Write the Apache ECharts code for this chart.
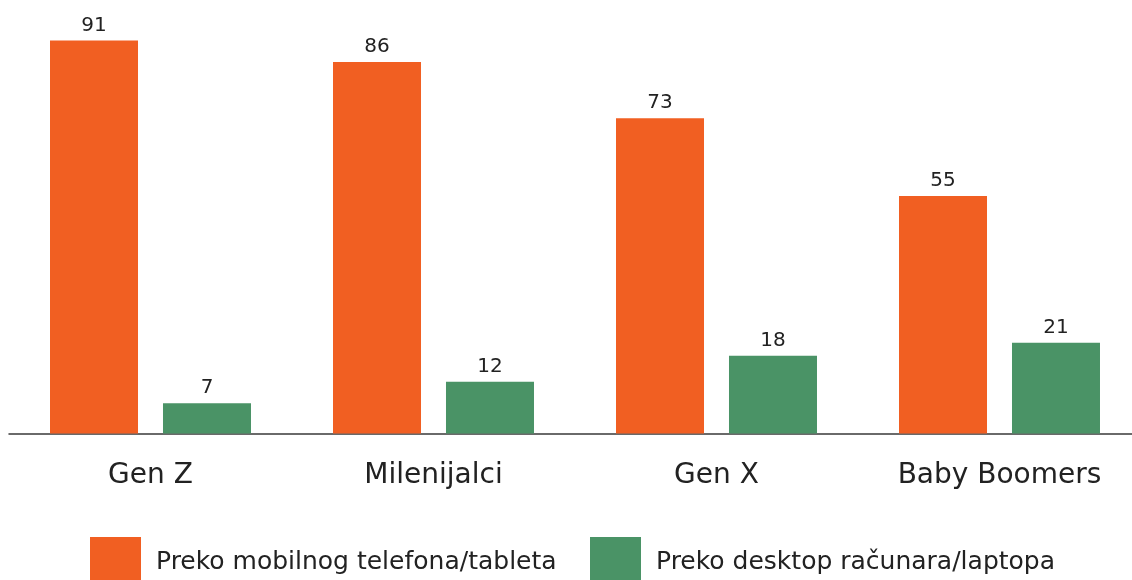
<!DOCTYPE html>
<html>
<head>
<meta charset="utf-8">
<script src="https://cdn.jsdelivr.net/npm/echarts@6/dist/echarts.min.js"></script>
<style>
  html, body { margin: 0; padding: 0; background: #fff; }
  #chart { width: 1132px; height: 580px; }
</style>
</head>
<body>
<div id="chart"></div>
<script>
// --- Data ---
const categories = ['Gen Z', 'Milenijalci', 'Gen X', 'Baby Boomers'];
const mobileValues = [91, 86, 73, 55];
const desktopValues = [7, 12, 18, 21];
const seriesNames = ['Preko mobilnog telefona/tableta', 'Preko desktop računara/laptopa'];

const ORANGE = '#F15F22';
const GREEN = '#4A9366';
const FONT = '"DejaVu Sans", "Noto Sans", sans-serif';

const chart = echarts.init(document.getElementById('chart'), null, { renderer: 'canvas' });

const labelStyle = {
    show: true,
    position: 'top',
    distance: 5,
    color: '#222',
    fontSize: 20,
    fontFamily: FONT
};

// one legend per item so each can sit at its own x
// (legend has 5px padding, hence left/top are 5 less than the square)
function legendAt(left, name) {
    return {
        left: left,
        top: 532,
        itemWidth: 51,
        itemHeight: 50,
        icon: 'rect',
        data: [name],
        selectedMode: false,
        textStyle: { color: '#222', fontSize: 25, fontFamily: FONT, padding: [0, 0, 0, 10] }
    };
}

chart.setOption({
    animation: false,
    // plot runs a little past the right edge, like the original
    grid: { left: 9, width: 1132, top: 1.5, bottom: 146.5, containLabel: false, outerBoundsMode: 'none' },
    legend: [legendAt(85, seriesNames[0]), legendAt(585, seriesNames[1])],
    xAxis: {
        type: 'category',
        data: categories,
        axisTick: { show: false },
        axisLine: { lineStyle: { color: '#3a3a3a', width: 1.5 } },
        axisLabel: { color: '#222', fontSize: 28, fontFamily: FONT, margin: 28 }
    },
    yAxis: {
        type: 'value',
        min: 0,
        max: 100,
        show: false,
        splitLine: { show: false }
    },
    series: [
        {
            name: seriesNames[0],
            type: 'bar',
            data: mobileValues,
            barWidth: 88,
            barGap: '28.4%',
            itemStyle: { color: ORANGE },
            label: labelStyle
        },
        {
            name: seriesNames[1],
            type: 'bar',
            data: desktopValues,
            barWidth: 88,
            itemStyle: { color: GREEN },
            label: labelStyle
        }
    ]
});
</script>
</body>
</html>
